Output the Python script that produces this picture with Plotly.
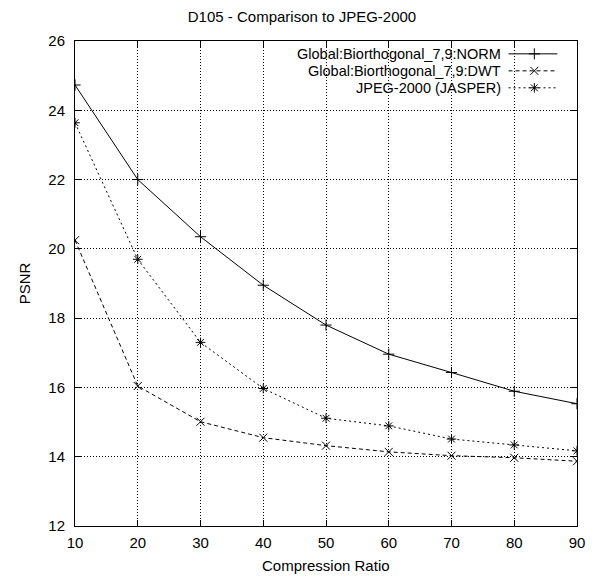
import plotly.graph_objects as go

ratios = [10, 20, 30, 40, 50, 60, 70, 80, 90]
norm_psnr = [24.73, 22.00, 20.35, 18.95, 17.80, 16.96, 16.43, 15.89, 15.53]
dwt_psnr = [20.25, 16.04, 15.01, 14.55, 14.32, 14.14, 14.03, 13.97, 13.87]
jpeg_psnr = [23.64, 19.70, 17.30, 15.97, 15.11, 14.89, 14.51, 14.34, 14.17]
psnr_ticks = [12, 14, 16, 18, 20, 22, 24, 26]

series_names = ["Global:Biorthogonal_7,9:NORM", "Global:Biorthogonal_7,9:DWT", "JPEG-2000 (JASPER)"]
dashes = ["solid", "4px,3px", "2px,3px"]
symbols = ["cross-thin-open", "x-thin-open", "asterisk-open"]
values = [norm_psnr, dwt_psnr, jpeg_psnr]

FONT = "Liberation Sans, Arial, Helvetica, sans-serif"
FS = 15

fig = go.Figure()
for name, vals, dash, sym in zip(series_names, values, dashes, symbols):
    fig.add_trace(go.Scatter(
        x=ratios, y=vals, mode="lines+markers", name=name,
        line=dict(color="black", width=1, dash=dash),
        marker=dict(symbol=sym, size=8, color="black", line=dict(color="black", width=1)),
        showlegend=False,
    ))

# Legend (gnuplot style: text right-aligned, sample on the right) on an overlay axis
leg_y = [0.9735, 0.9385, 0.9035]
for name, dash, sym, ly in zip(series_names, dashes, symbols, leg_y):
    fig.add_trace(go.Scatter(
        x=[0.8636, 0.961], y=[ly, ly], mode="lines", xaxis="x2", yaxis="y2",
        line=dict(color="black", width=1, dash=dash), showlegend=False, hoverinfo="skip"))
    fig.add_trace(go.Scatter(
        x=[0.915], y=[ly], mode="markers", xaxis="x2", yaxis="y2",
        marker=dict(symbol=sym, size=8, color="black", line=dict(color="black", width=1)),
        showlegend=False, hoverinfo="skip"))
    fig.add_annotation(x=0.8476, y=ly, xref="x2", yref="y2", text=name, showarrow=False,
                       xanchor="right", yanchor="middle", xshift=1, borderpad=0,
                       font=dict(family=FONT, size=14.5, color="black"))

# x-axis title placed below the tick labels
fig.add_annotation(x=0.5, y=0, xref="paper", yref="paper", yshift=-39, text="Compression Ratio",
                   showarrow=False, xanchor="center", yanchor="middle",
                   font=dict(family=FONT, size=FS, color="black"))

axis_common = dict(
    showline=True, linecolor="black", linewidth=1, mirror="ticks",
    ticks="inside", ticklen=6, tickcolor="black", tickwidth=1,
    showgrid=True, gridcolor="black", gridwidth=1, griddash="1px,2px",
    zeroline=False, automargin=False, tickfont=dict(family=FONT, size=FS, color="black"),
)

# the page body adds an 8px offset, so the figure is sized to fill the rest of the window
fig.update_layout(
    width=588, height=569,
    margin=dict(l=67, r=19, t=33, b=51),
    paper_bgcolor="white", plot_bgcolor="white",
    title=dict(text="D105 - Comparison to JPEG-2000", x=0.5, xanchor="center", y=0.984, yanchor="middle",
               font=dict(family=FONT, size=FS, color="black")),
    xaxis=dict(range=[10, 90], tickvals=ratios, ticklabelstandoff=3, **axis_common),
    yaxis=dict(range=[12, 26], tickvals=psnr_ticks, ticklabelstandoff=6,
               title=dict(text="PSNR", standoff=14, font=dict(family=FONT, size=FS, color="black")), **axis_common),
    xaxis2=dict(range=[0, 1], overlaying="x", visible=False, fixedrange=True),
    yaxis2=dict(range=[0, 1], overlaying="y", visible=False, fixedrange=True),
    showlegend=False,
)

fig.write_html("out.html")
